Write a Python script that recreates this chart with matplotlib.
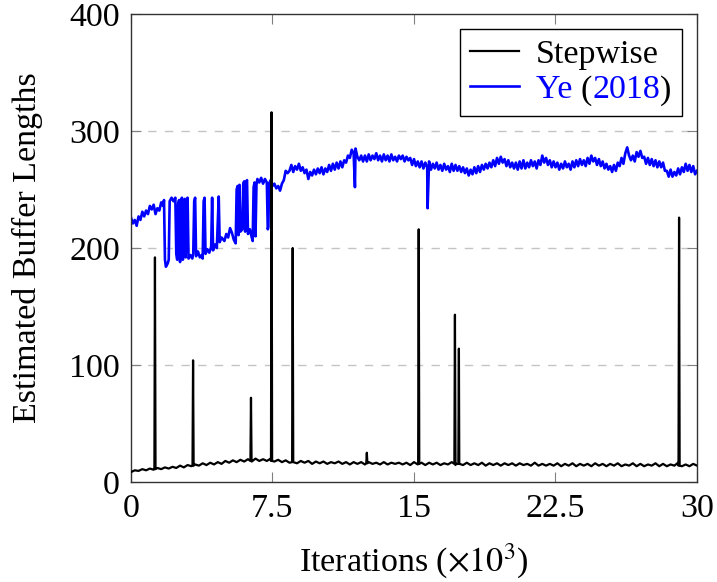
import numpy as np
import matplotlib
matplotlib.use("Agg")
import matplotlib.pyplot as plt
from matplotlib.lines import Line2D

plt.rcParams['font.family'] = ['Liberation Serif', 'DejaVu Serif']
plt.rcParams['mathtext.fontset'] = 'stix'

FS = 24.5

# ---------------- data ----------------
x_ticks = [0, 7.5, 15, 22.5, 30]
x_tick_labels = ["0", "7.5", "15", "22.5", "30"]
y_ticks = [0, 100, 200, 300, 400]

# Stepwise: base series every 0.2 (x 0..30)
step_start, step_dx = 0.0, 0.2
step_base = [8.5, 10, 9.5, 11, 10, 11.5, 10.5, 12, 11, 12.5, 11.5,
             13, 12, 14, 12.5, 14.5, 13.5, 15, 14, 16, 14.5,
             16.5, 15, 17, 15.5, 18, 16.5, 18.5, 17, 19, 17.5,
             19.5, 17.5, 20, 18, 19.5, 18, 20, 17.5, 19, 17,
             18.5, 16.5, 18.5, 16, 18, 16.5, 18, 15.5, 17.5, 16,
             17.5, 15.5, 17, 16, 17.5, 15.5, 17, 15, 17, 15.5,
             17, 15, 17, 15.5, 16.5, 15, 17, 15, 16.5, 15.5,
             16.5, 15, 16.5, 14.5, 17, 15, 16.5, 14.5, 16.5, 15,
             16.5, 14.5, 16, 15, 17, 14.5, 16, 14.5, 16.5, 14.5,
             16, 14.5, 16.5, 14, 16, 14.5, 16, 14, 16, 14.5,
             16, 14, 16, 14.5, 15.5, 14, 16.5, 14, 15.5, 14,
             15.5, 14, 16, 13.5, 15.5, 14, 16, 13.5, 15.5, 14,
             15.5, 13.5, 16, 14, 15.5, 13.5, 15.5, 14, 16, 13.5,
             15, 14, 16, 13.5, 15.5, 13.5, 15, 14, 16, 13.5,
             15.5, 13.5, 15, 14, 16.5, 13.5, 15, 13.5, 15.5, 14]
step_spike_x = [1.27, 3.29, 6.36, 7.45, 8.57, 12.5, 15.25, 17.17, 17.38, 29.05]
step_spike_peak = [192, 104, 72, 316, 200, 25, 216, 143, 114, 226]
step_spike_foot = [11, 14, 18, 18, 17, 16, 15.5, 15.5, 15.5, 14]

# Ye (2018): irregular head part
ye_head_x = [0.0, 0.1, 0.2, 0.3, 0.4, 0.5, 0.6, 0.7, 0.8, 0.9, 1.0, 1.1, 1.2, 1.3,
             1.4, 1.5, 1.6, 1.7, 1.75,
             1.80, 1.85, 1.95, 2.00, 2.05, 2.15, 2.25, 2.35, 2.40, 2.45, 2.50, 2.55,
             2.60, 2.65, 2.70, 2.75, 2.80, 2.85, 2.90, 2.95, 3.00, 3.05, 3.15, 3.25,
             3.30, 3.35, 3.40, 3.45, 3.55, 3.65, 3.75, 3.80, 3.85, 3.90, 3.95, 4.05,
             4.15, 4.25, 4.30, 4.35, 4.45, 4.55, 4.65, 4.70, 4.80, 4.95, 5.05, 5.15,
             5.25, 5.35, 5.45, 5.55, 5.60, 5.65, 5.70, 5.75, 5.80, 5.90, 5.95, 6.00,
             6.05, 6.10, 6.15, 6.20, 6.30, 6.40, 6.45, 6.50, 6.55, 6.60, 6.65, 6.70,
             6.80, 6.90, 7.00, 7.10, 7.20, 7.25, 7.28, 7.32, 7.40, 7.50, 7.60, 7.70,
             7.80, 7.90, 8.00, 8.10, 8.20, 8.30]
ye_head_y = [226, 221, 224, 219, 227, 224, 231, 227, 232, 229, 236, 233, 237, 229,
             234, 232, 239, 236, 241,
             190, 184, 187, 190, 240, 243, 240, 243, 195, 190, 238, 241,
             188, 240, 243, 190, 238, 242, 192, 240, 243, 191, 194, 191,
             195, 240, 243, 193, 197, 192, 194, 191, 240, 243, 195, 199,
             196, 201, 243, 198, 203, 200, 244, 205, 209, 206, 212, 209,
             217, 213, 207, 204, 250, 253, 211, 254, 214, 216, 255, 257,
             214, 256, 258, 212, 216, 209, 206, 252, 256, 210, 254, 259,
             256, 260, 255, 259, 256, 216, 218, 255, 258, 253, 255, 251,
             253, 249, 255, 258, 266, 264]
# Ye (2018): regular tail every 0.1 from x = 8.4 to 30
ye_tail_start, ye_tail_dx = 8.4, 0.1
ye_tail = [266, 271, 265, 270, 267, 272, 266, 269, 264, 267,
           259, 265, 262, 267, 263, 268, 264, 269, 263, 268,
           265, 271, 266, 272, 267, 273, 268, 274, 269, 275,
           273, 279, 277, 284, 281, 285, 278, 275, 279, 274,
           279, 274, 280, 275, 279, 276, 281, 275, 279, 274,
           280, 275, 279, 274, 280, 275, 278, 274, 279, 276,
           279, 274, 278, 275, 277, 271, 276, 270, 274, 269,
           274, 268, 273, 269, 274, 267, 272, 268, 273, 267,
           271, 266, 272, 267, 270, 265, 272, 266, 271, 266,
           270, 265, 269, 264, 268, 262, 267, 263, 269, 264,
           270, 265, 271, 267, 272, 268, 273, 269, 275, 270,
           277, 272, 278, 273, 276, 270, 275, 269, 273, 268,
           273, 267, 274, 268, 275, 268, 273, 269, 275, 270,
           274, 268, 275, 271, 279, 273, 277, 271, 275, 269,
           274, 269, 273, 267, 272, 268, 274, 269, 272, 267,
           274, 269, 275, 270, 276, 271, 275, 270, 277, 272,
           279, 274, 277, 271, 276, 270, 274, 268, 272, 267,
           270, 265, 271, 266, 273, 270, 277, 272, 281, 286,
           279, 275, 279, 274, 282, 278, 283, 277, 278, 272,
           277, 271, 276, 270, 275, 269, 274, 269, 273, 266,
           266, 261, 267, 261, 265, 262, 268, 263, 269, 265,
           272, 266, 271, 265, 270, 263, 266]
ye_spike_x = [11.87, 15.72]
ye_spike_y = [252, 234]

# ---------------- assemble series ----------------
sx = list(step_start + step_dx * np.arange(len(step_base)))
sy = list(step_base)
for xs, pk, ft in zip(step_spike_x, step_spike_peak, step_spike_foot):
    sx += [xs - 0.03, xs, xs + 0.03]
    sy += [ft, pk, ft]
order = np.argsort(sx, kind="stable")
sx = np.array(sx)[order]
sy = np.array(sy)[order]

yx = list(ye_head_x) + list(ye_tail_start + ye_tail_dx * np.arange(len(ye_tail))) + list(ye_spike_x)
yy = list(ye_head_y) + list(ye_tail) + list(ye_spike_y)
order = np.argsort(yx, kind="stable")
yx = np.array(yx)[order]
yy = np.array(yy)[order]

# ---------------- figure ----------------
fig = plt.figure(figsize=(7.17, 5.82), dpi=100)
ax = fig.add_axes([0.1827, 0.1718, 0.7894, 0.8041])

for yv in [100, 200, 300]:
    ax.axhline(yv, color="#c4c4c4", lw=1.0, dashes=(6, 6), zorder=0)

ax.plot(sx, sy, color="black", lw=1.6, zorder=3)
ax.plot(yx, yy, color="#0000ff", lw=1.9, zorder=2)

ax.set_xlim(0, 30)
ax.set_ylim(0, 400)
ax.set_xticks(x_ticks)
ax.set_xticklabels(x_tick_labels)
ax.set_yticks(y_ticks)
ax.tick_params(direction="in", top=True, right=True, length=7, width=0.8,
               color="#808080", labelsize=FS, pad=8)
for sp in ax.spines.values():
    sp.set_color("#333333")
    sp.set_linewidth(1.0)

ax.set_xlabel(r"Iterations ($\times 10^3$)", fontsize=FS, labelpad=13)
ax.set_ylabel("Estimated Buffer Lengths", fontsize=FS, labelpad=19)

handles = [Line2D([], [], color="black", lw=1.6),
           Line2D([], [], color="#0000ff", lw=1.9)]
leg = ax.legend(handles, ["Stepwise", "Ye (2018)"], loc="upper right",
                fontsize=FS, frameon=True, fancybox=False, framealpha=1,
                edgecolor="black", borderpad=0.3, labelspacing=0.12,
                handlelength=1.45, handletextpad=0.5, borderaxespad=0.45)
leg.get_frame().set_linewidth(1.0)
t2 = leg.get_texts()[1]
t2.set_alpha(0.0)

fig.canvas.draw()
r = fig.canvas.get_renderer()
x0, y0 = t2.get_transform().transform(t2.get_position())
pieces = ["Ye ", "(", "2018", ")"]
colors = ["#0000ff", "black", "#0000ff", "black"]
props = t2.get_fontproperties()

def width(s):
    a = fig.text(0, 0, s + "|", fontproperties=props)
    b = fig.text(0, 0, "|", fontproperties=props)
    w = a.get_window_extent(r).width - b.get_window_extent(r).width
    a.remove(); b.remove()
    return w

inv = fig.transFigure.inverted()
prefix = ""
for p, c in zip(pieces, colors):
    dx = width(prefix) if prefix else 0.0
    fx, fy = inv.transform((x0 + dx, y0))
    fig.text(fx, fy, p, color=c, fontproperties=props, va="baseline", ha="left")
    prefix += p

fig.savefig("out.png", dpi=100)
